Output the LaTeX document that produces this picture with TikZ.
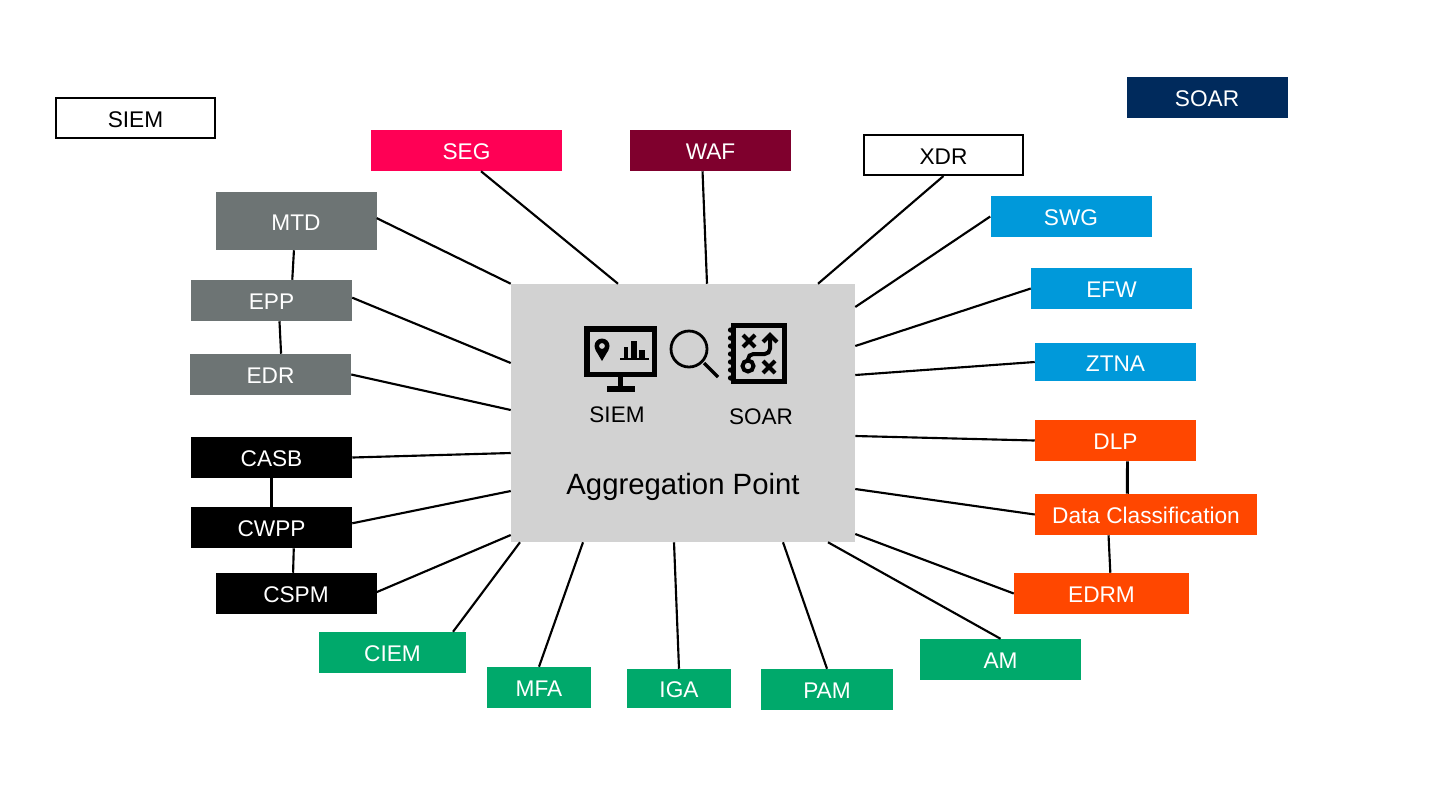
\documentclass[tikz,border=0pt]{standalone}
\usepackage{fontspec}
\setmainfont{Liberation Sans}
\definecolor{segred}{HTML}{FF0055}
\definecolor{wafred}{HTML}{7F002D}
\definecolor{soarblue}{HTML}{002A5C}
\definecolor{netblue}{HTML}{0099DA}
\definecolor{dataorange}{HTML}{FF4700}
\definecolor{idgreen}{HTML}{00A96B}
\definecolor{endgray}{HTML}{6D7474}
\definecolor{hubgray}{HTML}{D2D2D2}
\tikzset{
    tag/.style={inner sep=0pt,minimum width=120.75pt,minimum height=30.75pt,text height=14pt,text depth=0pt,font=\fontsize{17}{20}\selectfont},
    filltag/.style={tag,fill=#1,text=white},
    linetag/.style={tag,draw=black,line width=1.5pt,fill=white,text=black,minimum width=119.25pt,minimum height=30pt},
    hub/.style={fill=hubgray,inner sep=0pt,minimum width=258pt,minimum height=193.5pt},
    link/.style={draw=black,line width=1.6pt},
    iconline/.style={draw=black,line width=4.3pt}
}
\begin{document}
\begin{tikzpicture}[x=0.75pt,y=-0.75pt]
    \useasboundingbox (0,0) rectangle (1430,804);

    \node[hub] (Hub) at (683,413) {};

    \node[linetag] (SIEM) at (135.5,118) {SIEM};
    \node[filltag=soarblue] (SOAR) at (1207,97.5) {SOAR};
    \node[filltag=segred,minimum width=143.25pt] (SEG) at (466.5,150.5) {SEG};
    \node[filltag=wafred] (WAF) at (710.5,150.5) {WAF};
    \node[linetag] (XDR) at (943.5,155) {XDR};
    \node[filltag=netblue] (SWG) at (1071,216.5) {SWG};
    \node[filltag=netblue] (EFW) at (1111.5,288.5) {EFW};
    \node[filltag=netblue,minimum height=28.5pt] (ZTNA) at (1115.5,362) {ZTNA};
    \node[filltag=dataorange] (DLP) at (1115.5,440.5) {DLP};
    \node[filltag=dataorange,minimum width=166.5pt] (DataClass) at (1146,514.5) {Data Classification};
    \node[filltag=dataorange,minimum width=131.25pt] (EDRM) at (1101.5,593.5) {EDRM};
    \node[filltag=idgreen] (AM) at (1000.5,659.5) {AM};
    \node[filltag=idgreen,minimum width=99pt] (PAM) at (827,689.5) {PAM};
    \node[filltag=idgreen,minimum width=78pt,minimum height=29.25pt] (IGA) at (679,688.5) {IGA};
    \node[filltag=idgreen,minimum width=78pt] (MFA) at (539,687.5) {MFA};
    \node[filltag=idgreen,minimum width=110.25pt] (CIEM) at (392.5,652.5) {CIEM};
    \node[filltag=black] (CSPM) at (296,593.5) {CSPM};
    \node[filltag=black] (CWPP) at (271.5,527.5) {CWPP};
    \node[filltag=black] (CASB) at (271.5,457.5) {CASB};
    \node[filltag=endgray] (EDR) at (270.5,374.5) {EDR};
    \node[filltag=endgray] (EPP) at (271.5,300.5) {EPP};
    \node[filltag=endgray,minimum height=43.5pt] (MTD) at (296,221) {MTD};

    \draw[link] (SEG.-55.4) to ([xshift=-48.75]Hub.north);
    \draw[link] (WAF.-111.3) to ([xshift=18]Hub.north);
    \draw[link] (XDR.south) to ([xshift=101.25]Hub.north);
    \draw[link] (SWG.west) to ([yshift=79.5]Hub.east);
    \draw[link] (EFW.west) to ([yshift=50.25]Hub.east);
    \draw[link] (ZTNA.west) to ([yshift=28.5]Hub.east);
    \draw[link] (DLP.west) to ([yshift=-17.25]Hub.east);
    \draw[link] (DataClass.west) to ([yshift=-57]Hub.east);
    \draw[link] (EDRM.west) to ([yshift=-90.75]Hub.east);
    \draw[link] (AM.north) to ([xshift=108.75]Hub.south);
    \draw[link] (PAM.north) to ([xshift=75]Hub.south);
    \draw[link] (IGA.north) to ([xshift=-6.75]Hub.south);
    \draw[link] (MFA.north) to ([xshift=-75]Hub.south);
    \draw[link] ([xshift=45.4]CIEM.north) to ([xshift=-122.25]Hub.south);
    \draw[link] (CSPM.1.8) to ([yshift=-91.5]Hub.west);
    \draw[link] (CWPP.3.9) to ([yshift=-58.5]Hub.west);
    \draw[link] (CASB.east) to ([yshift=-30]Hub.west);
    \draw[link] (EDR.east) to ([yshift=2.25]Hub.west);
    \draw[link] (EPP.2) to ([yshift=37.5]Hub.west);
    \draw[link] (MTD.2.1) to (Hub.north west);

    \draw[link] (MTD.-94) to (EPP.45);
    \draw[link] (EPP.-69.1) to (EDR.63.4);
    \draw[link] (CASB.south) to (CWPP.north);
    \draw[link] (CWPP.-43.6) to (CSPM.98.3);
    \draw[link,line width=2.2pt] (DLP.-60.7) to (DataClass.132.8);
    \draw[link] (DataClass.209.7) to (EDRM.67);

    \node[font=\fontsize{16.9}{20}\selectfont] (SiemLabel) at (617,415) {SIEM};
    \node[font=\fontsize{16.9}{20}\selectfont] (SoarLabel) at (761,417) {SOAR};
    \node[font=\fontsize{22}{26}\selectfont] (HubLabel) at (683,487) {Aggregation Point};

    \draw[iconline] (587,329) rectangle (654.5,374.5);
    \fill (618,377) rectangle (623,387);
    \fill (607,386) rectangle (635,392);
    \fill[even odd rule] (602,346) circle (7.5) (602,346) circle (3);
    \fill (595.5,350) -- (602,361) -- (608.5,350) -- cycle;
    \fill (620,358) rectangle (649,360);
    \fill (624,347) rectangle (628,359);
    \fill (631,341) rectangle (637,359);
    \fill (639,350) rectangle (645,359);

    \draw[line width=2.1pt] (689,349) circle (18);
    \draw[line width=2.4pt] (704,363) -- (718,377);

    \draw[line width=4pt] (733.5,325.5) rectangle (784.5,381.5);
    \foreach \y in {330,338,346,354,362,370,378} {
        \fill (730.5,\y) circle (2.6);
    }
    \draw[line width=3pt] (743,335) -- (755,347) (743,347) -- (755,335);
    \draw[line width=3pt] (763,361) -- (775,373) (763,373) -- (775,361);
    \draw[line width=3pt] (748,366) circle (5.5);
    \draw[line width=3pt,rounded corners=4pt] (748,360) -- (748,354) -- (770,354) -- (770,337);
    \draw[line width=3pt] (763,342) -- (770,335) -- (777,342);
\end{tikzpicture}
\end{document}
